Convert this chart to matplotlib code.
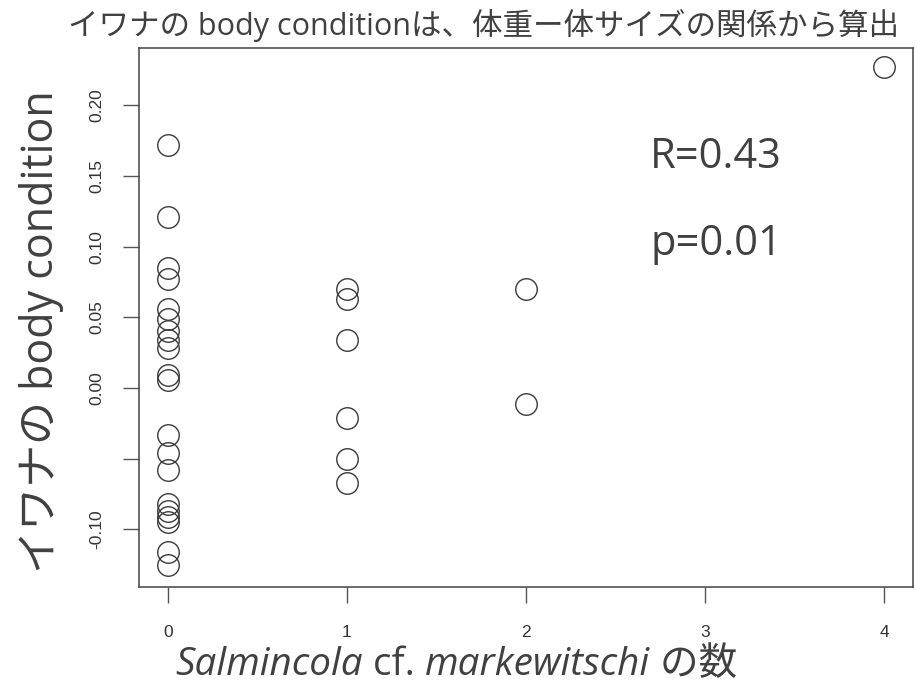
import matplotlib
matplotlib.use("Agg")
import matplotlib.pyplot as plt
import numpy as np

# ---- data ----
counts_0 = [0.172, 0.121, 0.085, 0.077, 0.056, 0.049, 0.040, 0.034, 0.028, 0.009,
            0.006, -0.033, -0.046, -0.058, -0.082, -0.087, -0.091, -0.095, -0.116, -0.125]
counts_1 = [0.070, 0.063, 0.034, -0.021, -0.050, -0.067]
counts_2 = [0.070, -0.011]
counts_4 = [0.227]
x_groups = [0, 1, 2, 4]
y_groups = [counts_0, counts_1, counts_2, counts_4]

xticks = [0, 1, 2, 3, 4]
xtick_labels = ["0", "1", "2", "3", "4"]
yticks = [-0.10, -0.05, 0.00, 0.05, 0.10, 0.15, 0.20]
ytick_labels = ["-0.10", "", "0.00", "0.05", "0.10", "0.15", "0.20"]

title = "イワナの body conditionは、体重ー体サイズの関係から算出"
ylabel = "イワナの body condition"
xlabel_parts = [("Salmincola", "italic"), (" cf. ", "normal"),
                ("markewitschi", "italic"), (" の数", "normal")]
stat_r = "R=0.43"
stat_p = "p=0.01"

# ---- plot ----
W, H = 915, 696
fig = plt.figure(figsize=(W / 100, H / 100), dpi=100)
L, R_, T, B = 139.3, 912.7, 48, 586.7
ax = fig.add_axes([L / W, 1 - B / H, (R_ - L) / W, (B - T) / H])

xs = []
ys = []
for xv, yv in zip(x_groups, y_groups):
    xs += [xv] * len(yv)
    ys += yv
ax.plot(xs, ys, linestyle="none", marker="o", markersize=15.5,
        markerfacecolor="none", markeredgecolor="#3a3a3a", markeredgewidth=1.0)

ax.set_xlim(-0.16, 4.16)
ax.set_ylim(-0.1405, 0.2405)
ax.set_xticks(xticks)
ax.set_xticklabels(xtick_labels)
ax.set_yticks(yticks)
ax.set_yticklabels(ytick_labels, rotation=90, va="center")

tick_col = "#333333"
for s in ax.spines.values():
    s.set_color("#444444")
    s.set_linewidth(1.1)
ax.tick_params(axis="both", length=11.5, width=1.0, color="#555555",
               labelcolor=tick_col, labelsize=12.5, direction="out")
ax.tick_params(axis="x", pad=16)
ax.tick_params(axis="y", pad=14)
for lab in ax.get_xticklabels() + ax.get_yticklabels():
    lab.set_family("Liberation Sans")

latin_cjk = ["Open Sans", "Noto Sans CJK JP"]
txtcol = "#404040"

fig.text(483.5 / W, 1 - 25 / H, title, ha="center", va="center",
         fontsize=22, color=txtcol, family=latin_cjk)
fig.text(42 / W, 1 - 332 / H, ylabel, ha="center", va="center", rotation=90,
         fontsize=31, color=txtcol, family=latin_cjk)

ax.text(650 / W, 1 - 157 / H, stat_r, transform=fig.transFigure, ha="left",
        va="center", fontsize=30, color=txtcol, family=latin_cjk)
ax.text(650 / W, 1 - 244 / H, stat_p, transform=fig.transFigure, ha="left",
        va="center", fontsize=30, color=txtcol, family=latin_cjk)

# x label assembled from pieces with mixed styles
fig.canvas.draw()
renderer = fig.canvas.get_renderer()
x_start = 175
y_center = 1 - 665 / H
xpos = x_start
for txt, style in xlabel_parts:
    t = fig.text(xpos / W, y_center, txt, ha="left", va="center", fontsize=27.8,
                 style=style, color=txtcol, family=latin_cjk)
    bb = t.get_window_extent(renderer=renderer)
    xpos += bb.width

fig.savefig("out.png", dpi=100)
